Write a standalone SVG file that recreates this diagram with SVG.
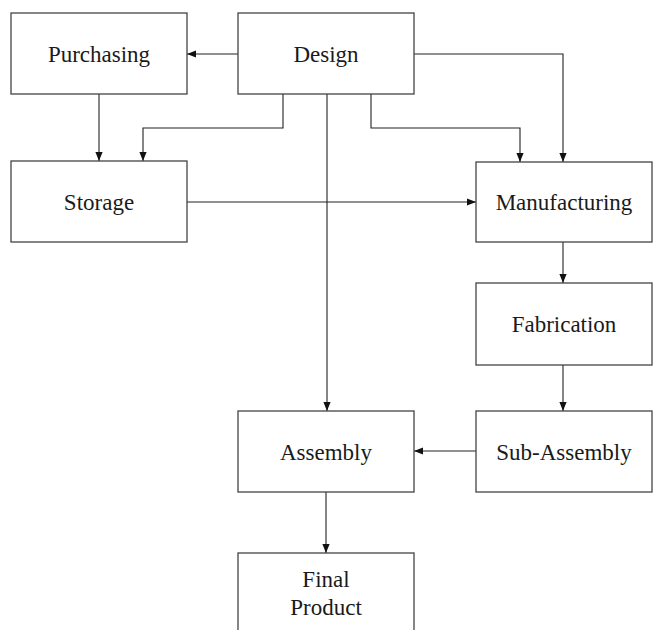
<svg xmlns="http://www.w3.org/2000/svg" width="655" height="630" viewBox="0 0 655 630">
<style>
.box{fill:#fff;stroke:#444;stroke-width:1.3}
text{font-family:'Liberation Serif','Times New Roman',serif;font-size:23px;fill:#1a1a1a;text-anchor:middle}
.edge{fill:none;stroke:#222;stroke-width:1.1;marker-end:url(#ah)}
</style>
<defs>
<marker id="ah" viewBox="0 0 10 10" refX="10" refY="5" markerWidth="9" markerHeight="9" markerUnits="userSpaceOnUse" orient="auto">
<path d="M0,1 L10,5 L0,9 Z" fill="#111"/>
</marker>
</defs>
<rect width="655" height="630" fill="#fff"/>
<g id="connectors">
<path class="edge" d="M238,54 H187"/>
<path class="edge" d="M99,94 V161"/>
<path class="edge" d="M283,94 V128 H143 V161"/>
<path class="edge" d="M371,94 V128 H520 V162"/>
<path class="edge" d="M414,54 H563 V162"/>
<path class="edge" d="M327,94 V411"/>
<path class="edge" d="M187,202 H476"/>
<path class="edge" d="M563,242 V283"/>
<path class="edge" d="M563,365 V411"/>
<path class="edge" d="M476,451 H414"/>
<path class="edge" d="M326,492 V553"/>
</g>
<g id="purchasing"><rect class="box" x="11" y="13" width="176" height="81"/><text x="99" y="62">Purchasing</text></g>
<g id="design"><rect class="box" x="238" y="13" width="176" height="81"/><text x="326" y="62">Design</text></g>
<g id="storage"><rect class="box" x="11" y="161" width="176" height="81"/><text x="99" y="210">Storage</text></g>
<g id="manufacturing"><rect class="box" x="476" y="162" width="176" height="80"/><text x="564" y="210">Manufacturing</text></g>
<g id="fabrication"><rect class="box" x="476" y="283" width="176" height="82"/><text x="564" y="332">Fabrication</text></g>
<g id="sub-assembly"><rect class="box" x="476" y="411" width="176" height="81"/><text x="564" y="460">Sub-Assembly</text></g>
<g id="assembly"><rect class="box" x="238" y="411" width="176" height="81"/><text x="326" y="460">Assembly</text></g>
<g id="final-product"><rect class="box" x="238" y="553" width="176" height="90"/><text x="326" y="587">Final</text><text x="326" y="615">Product</text></g>
</svg>
